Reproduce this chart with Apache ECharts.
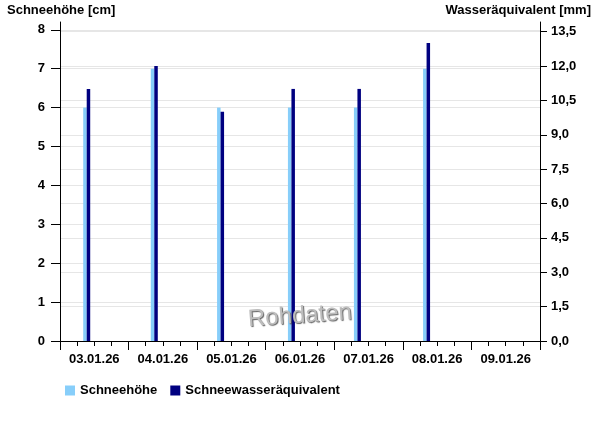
<!DOCTYPE html>
<html>
<head>
<meta charset="utf-8">
<script src="https://cdn.jsdelivr.net/npm/echarts@6/dist/echarts.min.js"></script>
<style>html,body{margin:0;padding:0;background:#fff;}#c{width:600px;height:426px;}</style>
</head>
<body>
<div id="c"></div>
<script>
// Data
const dayLabels = ['03.01.26', '04.01.26', '05.01.26', '06.01.26', '07.01.26', '08.01.26', '09.01.26'];
// measurement times, hours since 03.01.26 00:00
const measureHours = [9.35, 33.0, 56.2, 81.0, 104.1, 128.3];
const schneehoehe = [6, 7, 6, 6, 6, 7];            // cm
const wasseraequivalent = [11.0, 12.0, 10.0, 11.0, 11.0, 13.0]; // mm
const leftTicks = [0, 1, 2, 3, 4, 5, 6, 7, 8];
const rightTicks = [0, 1.5, 3, 4.5, 6, 7.5, 9, 10.5, 12, 13.5];

const FONT = '"Liberation Sans", Arial, sans-serif';
const chart = echarts.init(document.getElementById('c'), null, {renderer: 'canvas'});

const lblStyle = {color: '#000', fontWeight: 'bold', fontSize: 13, fontFamily: FONT};

chart.setOption({
  animation: false,
  backgroundColor: '#fff',
  grid: {left: 60, right: 60, top: 22, bottom: 85, containLabel: false},
  legend: {
    left: 60, top: 379, icon: 'rect', itemWidth: 10, itemHeight: 10, itemGap: 13,
    textStyle: {color: '#000', fontWeight: 'bold', fontSize: 13, fontFamily: FONT},
    data: ['Schneehöhe', 'Schneewasseräquivalent']
  },
  xAxis: {
    type: 'value', min: 0, max: dayLabels.length * 24, interval: 24,
    axisLine: {show: true, lineStyle: {color: '#000', width: 1}},
    axisTick: {show: true, length: 9, lineStyle: {color: '#000'}},
    minorTick: {show: true, splitNumber: 4, length: 5, lineStyle: {color: '#000'}},
    splitLine: {show: false},
    axisLabel: Object.assign({
      margin: 12,
      customValues: dayLabels.map((d, i) => i * 24 + 12),
      formatter: v => dayLabels[Math.round((v - 12) / 24)] || ''
    }, lblStyle)
  },
  yAxis: [
    {
      type: 'value', min: 0, max: 8.2, position: 'left',
      axisLine: {show: true, lineStyle: {color: '#000'}},
      axisTick: {show: true, length: 9, customValues: leftTicks, lineStyle: {color: '#000'}},
      axisLabel: Object.assign({margin: 15, customValues: leftTicks, formatter: v => String(v)}, lblStyle),
      splitLine: {show: true, lineStyle: {color: '#e6e6e6', width: 1}}
    },
    {
      type: 'value', min: 0, max: 13.92, position: 'right',
      axisLine: {show: true, lineStyle: {color: '#000'}},
      axisTick: {show: true, length: 7, customValues: rightTicks, lineStyle: {color: '#000'}},
      axisLabel: Object.assign({margin: 11, customValues: rightTicks,
        formatter: v => v.toFixed(1).replace('.', ',')}, lblStyle),
      splitLine: {show: true, lineStyle: {color: '#e6e6e6', width: 1}}
    }
  ],
  series: [
    {
      name: 'Schneehöhe', type: 'bar', xAxisIndex: 0, yAxisIndex: 0,
      barWidth: 3.5, barGap: '0%',
      itemStyle: {color: '#87cefa'},
      data: measureHours.map((h, i) => [h, schneehoehe[i]])
    },
    {
      name: 'Schneewasseräquivalent', type: 'bar', xAxisIndex: 0, yAxisIndex: 1,
      barWidth: 3.5, barGap: '0%',
      itemStyle: {color: '#000080'},
      data: measureHours.map((h, i) => [h, wasseraequivalent[i]])
    }
  ],
  graphic: [
    {type: 'text', left: 7, top: 4, style: {text: 'Schneehöhe [cm]', fill: '#000', font: 'bold 13px ' + FONT}},
    {type: 'text', right: 9, top: 4, style: {text: 'Wasseräquivalent [mm]', fill: '#000', font: 'bold 13px ' + FONT}},
    {type: 'text', x: 300, y: 316, rotation: 0.07, z: 100,
      style: {text: 'Rohdaten', fill: '#bdbdbd', font: '24px ' + FONT, align: 'center', verticalAlign: 'middle',
        textShadowColor: 'rgba(60,60,60,0.8)', textShadowOffsetX: 1, textShadowOffsetY: 1, textShadowBlur: 1}}
  ]
});
</script>
</body>
</html>
